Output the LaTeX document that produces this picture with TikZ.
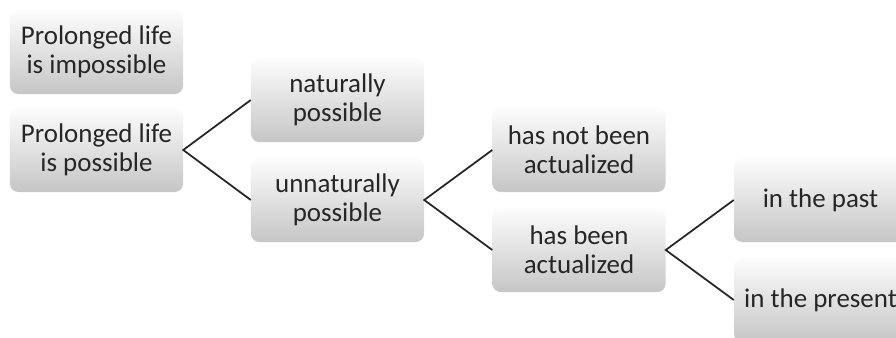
\documentclass[tikz,border=0pt]{standalone}
\usepackage{fontspec}
\setmainfont{Carlito}
\usetikzlibrary{calc}
\tikzset{
  box/.style={rounded corners=7pt, top color=gray!2, bottom color=gray!45,
    minimum width=5.19cm, minimum height=2.52cm, align=center, inner sep=2pt,
    font=\fontsize{23}{24.8}\selectfont, text=black!85},
  link/.style={line width=1.5pt, draw=black!85}
}
\begin{document}
\begin{tikzpicture}[x=0.03cm, y=-0.03cm]
  \path[use as bounding box, clip] (0,0) rectangle (896,338);
  % first column
  \node[box] (impossible) at (96.5,52) {Prolonged life\\is impossible};
  \node[box] (possible) at (96.5,150) {Prolonged life\\is possible};
  % second column
  \node[box] (natural) at (337.5,100) {naturally\\possible};
  \node[box] (unnatural) at (337.5,200) {unnaturally\\possible};
  % third column
  \node[box] (notactual) at (579,150) {has not been\\actualized};
  \node[box] (actual) at (579,250) {has been\\actualized};
  % fourth column
  \node[box] (past) at (820.5,200) {in the past};
  \node[box] (present) at (820.5,300) {in the present};
  % branches
  \draw[link] (natural.west) -- (possible.east) -- (unnatural.west);
  \draw[link] (notactual.west) -- (unnatural.east) -- (actual.west);
  \draw[link] (past.west) -- (actual.east) -- (present.west);
\end{tikzpicture}
\end{document}
